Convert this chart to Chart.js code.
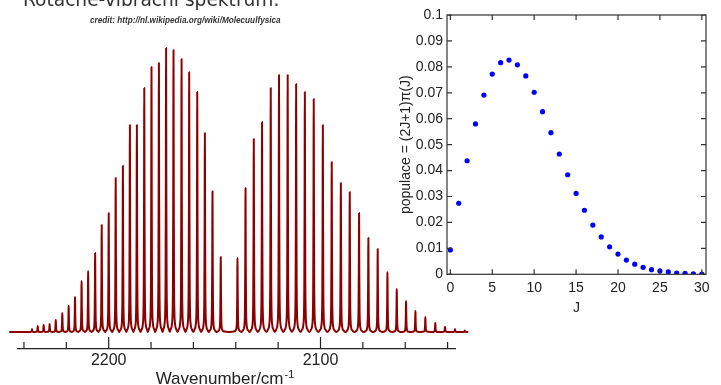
<!DOCTYPE html>
<html>
<head>
<meta charset="utf-8">
<script src="https://cdn.jsdelivr.net/npm/chart.js@4.4.0/dist/chart.umd.min.js"></script>
<style>
  html, body { margin: 0; padding: 0; background: #fff; }
  body { width: 721px; height: 385px; position: relative; overflow: hidden; }
  #spectrum { position: absolute; left: 0; top: 0; }
  #population { position: absolute; left: 380px; top: 0; }
  #title { position: absolute; left: 23px; top: -11px; font: 18.6px "DejaVu Sans", sans-serif; line-height: 22px; color: #333; white-space: nowrap; }
  #credit { position: absolute; left: 90px; top: 16px; font: italic bold 8.2px "Liberation Sans", Arial, sans-serif; line-height: 10px; color: #333; white-space: nowrap; }
</style>
</head>
<body>
<canvas id="spectrum" width="480" height="385"></canvas>
<canvas id="population" width="341" height="330"></canvas>
<div id="title">Rotačně-vibrační spektrum.</div>
<div id="credit">credit: http://nl.wikipedia.org/wiki/Molecuulfysica</div>
<script>
// spectrum: line positions (cm-1) and relative heights
var rBranchWavenumbers = [2236.2, 2233.5, 2230.7, 2227.9, 2225.0, 2221.9, 2218.9, 2215.9, 2212.8, 2209.7,
                          2206.4, 2203.3, 2200.0, 2196.7, 2193.3, 2190.0, 2186.7, 2183.2, 2179.8, 2176.3,
                          2172.9, 2169.4, 2165.6, 2162.0, 2158.2, 2154.6, 2151.0, 2147.1];
var rBranchHeights = [0.010, 0.021, 0.025, 0.028, 0.042, 0.067, 0.092, 0.123, 0.180, 0.215,
                      0.278, 0.377, 0.419, 0.542, 0.585, 0.729, 0.729, 0.859, 0.933, 0.947,
                      1.000, 0.993, 0.961, 0.915, 0.845, 0.701, 0.496, 0.264];
var pBranchWavenumbers = [2139.2, 2135.4, 2131.5, 2127.6, 2123.5, 2119.6, 2115.5, 2111.5, 2107.4, 2103.2,
                          2098.9, 2094.7, 2090.4, 2086.2, 2081.8, 2077.4, 2073.0, 2068.4, 2064.0, 2059.6,
                          2055.2, 2050.5, 2045.8, 2041.2, 2036.5, 2031.9];
var pBranchHeights = [0.261, 0.507, 0.680, 0.739, 0.859, 0.905, 0.905, 0.873, 0.845, 0.820,
                      0.729, 0.599, 0.525, 0.493, 0.419, 0.331, 0.292, 0.211, 0.151, 0.109,
                      0.074, 0.053, 0.032, 0.018, 0.010, 0.005];
var spectrumStart = 2246.6;
var spectrumEnd = 2031.0;
var wavenumberTicks = [2240, 2220, 2200, 2180, 2160, 2140, 2120, 2100, 2080, 2060, 2040];
var wavenumberLabels = [2200, 2100];

// population per rotational level
var jValues = [0, 1, 2, 3, 4, 5, 6, 7, 8, 9, 10, 11, 12, 13, 14, 15,
               16, 17, 18, 19, 20, 21, 22, 23, 24, 25, 26, 27, 28, 29, 30];
var population = [0.0094, 0.0274, 0.0438, 0.0580, 0.0691, 0.0772, 0.0816, 0.0826, 0.0808, 0.0765,
                  0.0702, 0.0627, 0.0546, 0.0464, 0.0384, 0.0312, 0.0247, 0.0190, 0.0144, 0.0106,
                  0.0078, 0.0055, 0.0039, 0.0027, 0.0018, 0.0013, 0.0009, 0.0005, 0.0004, 0.0002, 0.0001];
var jTicks = [0, 5, 10, 15, 20, 25, 30];
var populationTicks = [0, 0.01, 0.02, 0.03, 0.04, 0.05, 0.06, 0.07, 0.08, 0.09, 0.1];

Chart.defaults.font.family = '"Liberation Sans", Arial, sans-serif';
Chart.defaults.color = '#222';

// line profile (offset in cm-1, fraction of peak height)
var lineShape = [[1.3, 0.01], [0.7, 0.03], [0.4, 0.08], [0.24, 0.2], [0.12, 0.5], [0.05, 0.85], [0, 1],
                 [-0.05, 0.85], [-0.12, 0.5], [-0.24, 0.2], [-0.4, 0.08], [-0.7, 0.03], [-1.3, 0.01]];

var peaks = [];
rBranchWavenumbers.forEach(function (w, i) { peaks.push([w, rBranchHeights[i]]); });
pBranchWavenumbers.forEach(function (w, i) { peaks.push([w, pBranchHeights[i]]); });
peaks.sort(function (a, b) { return b[0] - a[0]; });

var spectrumPoints = [{x: spectrumStart, y: 0}];
peaks.forEach(function (p, i) {
    if (i > 0) spectrumPoints.push({x: (peaks[i - 1][0] + p[0]) / 2, y: 0});
    lineShape.forEach(function (s) {
        spectrumPoints.push({x: p[0] + s[0], y: p[1] * s[1]});
    });
});
spectrumPoints.push({x: spectrumEnd, y: 0});

var spectrumAxis = {
    id: 'spectrumAxis',
    afterDraw: function (chart) {
        var ctx = chart.ctx, sx = chart.scales.x, yb = chart.chartArea.bottom;
        ctx.save();
        ctx.strokeStyle = '#222';
        ctx.lineWidth = 1.2;
        sx.ticks.forEach(function (t) {
            var px = sx.getPixelForValue(t.value);
            var len = wavenumberLabels.indexOf(t.value) >= 0 ? 12 : 7;
            ctx.beginPath();
            ctx.moveTo(px, yb);
            ctx.lineTo(px, yb - len);
            ctx.stroke();
        });
        // axis title with a raised -1
        ctx.fillStyle = '#222';
        ctx.textBaseline = 'alphabetic';
        ctx.font = '17px "Liberation Sans", Arial, sans-serif';
        var main = 'Wavenumber/cm';
        var w1 = ctx.measureText(main).width;
        ctx.font = '11px "Liberation Sans", Arial, sans-serif';
        var w2 = ctx.measureText('-1').width;
        var left = 224.5 - (w1 + w2) / 2;
        ctx.font = '17px "Liberation Sans", Arial, sans-serif';
        ctx.fillText(main, left, 384);
        ctx.font = '11px "Liberation Sans", Arial, sans-serif';
        ctx.fillText('-1', left + w1 + 1, 378);
        ctx.restore();
    }
};

new Chart(document.getElementById('spectrum').getContext('2d'), {
    type: 'line',
    data: {
        datasets: [{
            data: spectrumPoints,
            borderColor: '#8b0000',
            borderWidth: 2,
            borderJoinStyle: 'round',
            borderCapStyle: 'round',
            pointRadius: 0,
            cubicInterpolationMode: 'monotone',
            clip: false
        }]
    },
    options: {
        responsive: false,
        animation: false,
        layout: { padding: { left: 17.3, right: 25, top: 40, bottom: 0 } },
        plugins: { legend: { display: false }, tooltip: { enabled: false } },
        scales: {
            x: {
                type: 'linear',
                reverse: true,
                min: 2036.5,
                max: 2243.15,
                afterBuildTicks: function (scale) {
                    scale.ticks = wavenumberTicks.map(function (v) { return {value: v}; });
                },
                afterFit: function (scale) { scale.height = 36; },
                grid: { display: false, drawTicks: false },
                border: { display: true, color: '#222', width: 1.2 },
                ticks: {
                    padding: 2,
                    maxRotation: 0,
                    autoSkip: false,
                    font: { size: 16 },
                    callback: function (v) { return wavenumberLabels.indexOf(v) >= 0 ? String(v) : ''; }
                }
            },
            y: {
                display: false,
                min: -17 / 284,
                max: 292 / 284
            }
        }
    },
    plugins: [spectrumAxis]
});

var frameAndTicks = {
    id: 'frameAndTicks',
    afterDraw: function (chart) {
        var ctx = chart.ctx, a = chart.chartArea, sx = chart.scales.x, sy = chart.scales.y;
        ctx.save();
        ctx.strokeStyle = '#333';
        ctx.lineWidth = 1.2;
        ctx.strokeRect(a.left, a.top, a.right - a.left, a.bottom - a.top);
        ctx.beginPath();
        sx.ticks.forEach(function (t) {
            var px = sx.getPixelForValue(t.value);
            ctx.moveTo(px, a.bottom); ctx.lineTo(px, a.bottom - 5);
            ctx.moveTo(px, a.top); ctx.lineTo(px, a.top + 5);
        });
        sy.ticks.forEach(function (t) {
            var py = sy.getPixelForValue(t.value);
            ctx.moveTo(a.left, py); ctx.lineTo(a.left + 5, py);
            ctx.moveTo(a.right, py); ctx.lineTo(a.right - 5, py);
        });
        ctx.stroke();
        ctx.restore();
    }
};

new Chart(document.getElementById('population').getContext('2d'), {
    type: 'scatter',
    data: {
        datasets: [{
            data: jValues.map(function (j, i) { return {x: j, y: population[i]}; }),
            backgroundColor: '#0000ff',
            borderWidth: 0,
            pointRadius: 2.6
        }]
    },
    options: {
        responsive: false,
        animation: false,
        layout: { padding: { left: 0, right: 15, top: 15, bottom: 0 } },
        plugins: { legend: { display: false }, tooltip: { enabled: false } },
        scales: {
            x: {
                type: 'linear',
                min: -0.4,
                max: 30.5,
                afterBuildTicks: function (scale) {
                    scale.ticks = jTicks.map(function (v) { return {value: v}; });
                },
                afterFit: function (scale) { scale.height = 55.7; },
                grid: { display: false, drawTicks: false },
                border: { display: false },
                ticks: { padding: 5, maxRotation: 0, autoSkip: false, font: { size: 14 } },
                title: { display: true, text: 'J', font: { size: 14 }, padding: { top: 0, bottom: 13.6 } }
            },
            y: {
                type: 'linear',
                min: 0,
                max: 0.1,
                afterBuildTicks: function (scale) {
                    scale.ticks = populationTicks.map(function (v) { return {value: v}; });
                },
                afterFit: function (scale) { scale.width = 67; },
                grid: { display: false, drawTicks: false },
                border: { display: false },
                ticks: {
                    padding: 4,
                    autoSkip: false,
                    font: { size: 14 },
                    callback: function (v) { return String(Number(v.toFixed(2))); }
                },
                title: { display: true, text: 'populace = (2J+1)π(J)', font: { size: 14 }, padding: { top: 17.6, bottom: 0 } }
            }
        }
    },
    plugins: [frameAndTicks]
});
</script>
</body>
</html>
